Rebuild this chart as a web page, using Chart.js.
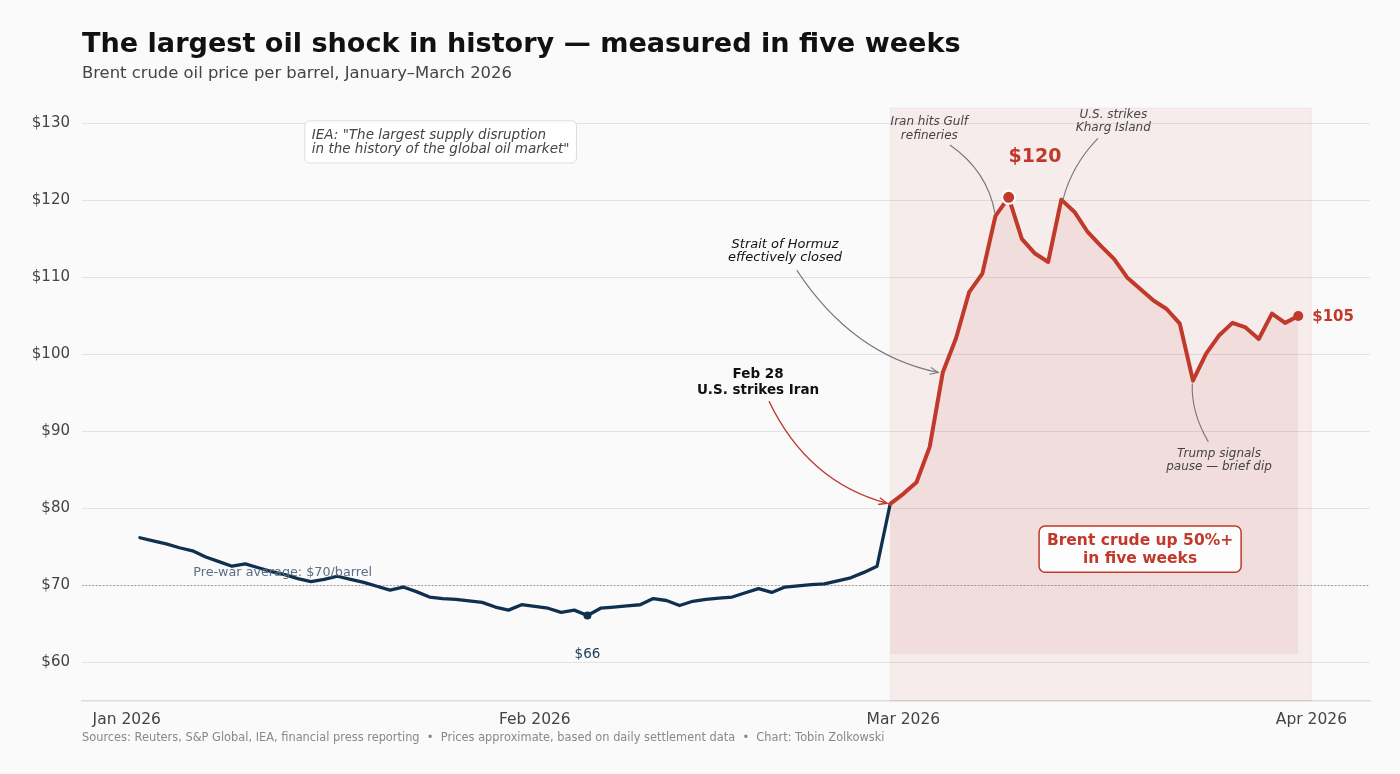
<!DOCTYPE html>
<html>

<head>
  <title>The largest oil shock in history</title>
  <script src="https://cdn.jsdelivr.net/npm/chart.js"></script>
  <style>
    body {
      margin: 0;
      background-color: #fafafa;
    }

    #chartContainer {
      width: 1400px;
      height: 774px;
    }
  </style>
</head>

<body>
  <div id="chartContainer">
    <canvas id="oilChart" width="1400" height="774"></canvas>
  </div>

  <script>
    // x values are days counted from Jan 1 2026 (0 = Jan 1)
    const preWarDays = [1, 2, 3, 4, 5, 6, 7, 8, 9, 10, 11, 12, 13, 14, 15, 16, 17, 18, 19, 20,
      21, 22, 23, 24, 25, 26, 27, 28, 29, 30, 31, 32, 33, 34, 35, 36, 37, 38, 39, 40,
      41, 42, 43, 44, 45, 46, 47, 48, 49, 50, 51, 52, 53, 54, 55, 56, 57, 58];
    const preWarPrices = [76.2, 75.8, 75.4, 74.9, 74.5, 73.7, 73.1, 72.5, 72.8, 72.3,
      71.8, 71.4, 70.9, 70.5, 70.8, 71.2, 70.8, 70.4, 69.9, 69.4,
      69.8, 69.2, 68.5, 68.3, 68.2, 68.0, 67.8, 67.2, 66.8, 67.5,
      67.3, 67.05, 66.5, 66.8, 66.1, 67.05, 67.2, 67.35, 67.5, 68.3,
      68.05, 67.4, 67.95, 68.2, 68.35, 68.5, 69.05, 69.6, 69.1, 69.8,
      69.95, 70.1, 70.2, 70.6, 71.0, 71.7, 72.5, 80.6];

    const warDays = [58, 59, 60, 61, 62, 63, 64, 65, 66, 67, 68, 69, 70, 71, 72, 73,
      74, 75, 76, 77, 78, 79, 80, 81, 82, 83, 84, 85, 86, 87, 88, 89];
    const warPrices = [80.6, 81.9, 83.4, 88.0, 97.7, 102.1, 108.1, 110.5, 118.0, 120.4,
      115.0, 113.1, 112.0, 120.1, 118.5, 115.9, 114.1, 112.4, 110.0, 108.5,
      107.0, 105.9, 104.0, 96.6, 100.1, 102.5, 104.1, 103.5, 102.0, 105.3,
      104.1, 105.0];

    const xTickDays = [0, 31, 59, 90];
    const xTickLabels = ['Jan 2026', 'Feb 2026', 'Mar 2026', 'Apr 2026'];
    const yTickValues = [60, 70, 80, 90, 100, 110, 120, 130];

    const prewarAverage = 70;
    const warSpan = [58, 90];
    const fillFloor = 61.1;

    const NAVY = '#10304f';
    const RED = '#c0392b';
    const FONT = '"DejaVu Sans", sans-serif';

    const minIdx = preWarPrices.indexOf(Math.min(...preWarPrices));
    const peakIdx = warPrices.indexOf(Math.max(...warPrices));
    const lastIdx = warPrices.length - 1;

    function toPoints(days, prices) {
      return days.map((d, i) => ({ x: d, y: prices[i] }));
    }

    // draw text so that the cap-height centre of the line sits on y
    function capText(ctx, str, x, y, size) {
      ctx.textBaseline = 'alphabetic';
      ctx.fillText(str, x, y + size * 0.365);
    }

    function curve(ctx, p0, c, p1, color, width, head) {
      ctx.save();
      ctx.strokeStyle = color;
      ctx.lineWidth = width;
      ctx.beginPath();
      ctx.moveTo(p0[0], p0[1]);
      ctx.quadraticCurveTo(c[0], c[1], p1[0], p1[1]);
      ctx.stroke();
      if (head) {
        const ang = Math.atan2(p1[1] - c[1], p1[0] - c[0]);
        const len = 9;
        ctx.beginPath();
        ctx.moveTo(p1[0] - len * Math.cos(ang - 0.4), p1[1] - len * Math.sin(ang - 0.4));
        ctx.lineTo(p1[0], p1[1]);
        ctx.lineTo(p1[0] - len * Math.cos(ang + 0.4), p1[1] - len * Math.sin(ang + 0.4));
        ctx.stroke();
      }
      ctx.restore();
    }

    function roundBox(ctx, x0, y0, x1, y1, r, fill, stroke, lw) {
      ctx.save();
      ctx.beginPath();
      ctx.roundRect(x0, y0, x1 - x0, y1 - y0, r);
      ctx.fillStyle = fill;
      ctx.fill();
      ctx.strokeStyle = stroke;
      ctx.lineWidth = lw;
      ctx.stroke();
      ctx.restore();
    }

    const decorPlugin = {
      id: 'decor',
      beforeDraw(chart) {
        const ctx = chart.ctx;
        ctx.save();
        ctx.fillStyle = '#fafafa';
        ctx.fillRect(0, 0, chart.width, chart.height);

        ctx.fillStyle = '#111';
        ctx.font = 'bold 27.1px ' + FONT;
        ctx.textAlign = 'left';
        ctx.fillText('The largest oil shock in history \u2014 measured in five weeks', 82, 52);

        ctx.fillStyle = '#444';
        ctx.font = '16.4px ' + FONT;
        ctx.fillText('Brent crude oil price per barrel, January\u2013March 2026', 82, 78);

        ctx.fillStyle = '#888';
        ctx.font = '11.4px ' + FONT;
        ctx.fillText('Sources: Reuters, S&P Global, IEA, financial press reporting  \u2022  Prices approximate, based on daily settlement data  \u2022  Chart: Tobin Zolkowski', 82, 741);
        ctx.restore();
      },
      beforeDatasetsDraw(chart) {
        const { ctx, chartArea, scales } = chart;
        const xs = scales.x, ys = scales.y;
        ctx.save();
        // war period shading
        const sx0 = xs.getPixelForValue(warSpan[0]);
        const sx1 = xs.getPixelForValue(warSpan[1]);
        ctx.fillStyle = 'rgba(192,57,43,0.07)';
        ctx.fillRect(sx0, chartArea.top, sx1 - sx0, chartArea.bottom - chartArea.top);
        ctx.strokeStyle = 'rgba(192,57,43,0.06)';
        ctx.lineWidth = 1;
        ctx.strokeRect(sx0, chartArea.top, sx1 - sx0, chartArea.bottom - chartArea.top);

        // pre-war average
        const ay = ys.getPixelForValue(prewarAverage);
        ctx.strokeStyle = '#9a9a9a';
        ctx.lineWidth = 1.2;
        ctx.setLineDash([1.5, 2]);
        ctx.beginPath();
        ctx.moveTo(chartArea.left, ay);
        ctx.lineTo(chartArea.right, ay);
        ctx.stroke();
        ctx.restore();
      },
      afterDatasetsDraw(chart) {
        const { ctx, scales } = chart;
        const xs = scales.x, ys = scales.y;
        const P = (d, v) => [xs.getPixelForValue(d), ys.getPixelForValue(v)];
        ctx.save();

        // pre-war average label
        ctx.fillStyle = '#5b6f86';
        ctx.font = '12.75px ' + FONT;
        ctx.textAlign = 'left';
        let p = P(5.05, 71.9);
        capText(ctx, 'Pre-war average: $70/barrel', p[0], p[1], 12.75);

        // low label
        ctx.fillStyle = '#1b3a5c';
        ctx.font = '13.5px ' + FONT;
        ctx.textAlign = 'center';
        p = P(preWarDays[minIdx], 61.26);
        capText(ctx, '$' + Math.round(preWarPrices[minIdx]), p[0], p[1], 13.5);

        // IEA quote box
        ctx.font = 'italic 13.5px ' + FONT;
        const ieaLines = ['IEA: "The largest supply disruption', 'in the history of the global oil market"'];
        const i1 = P(14.06, 128.65), i2 = P(14.06, 126.8);
        const iw = Math.max(...ieaLines.map(s => ctx.measureText(s).width));
        roundBox(ctx, i1[0] - 7, i1[1] - 13, i1[0] + iw + 7, i2[1] + 15, 5, 'rgba(255,255,255,0.9)', '#dddddd', 1);
        ctx.fillStyle = '#444';
        ctx.textAlign = 'left';
        capText(ctx, ieaLines[0], i1[0], i1[1], 13.5);
        capText(ctx, ieaLines[1], i2[0], i2[1], 13.5);

        // Feb 28 strike
        curve(ctx, P(48.79, 93.93), P(51.75, 83.41), P(57.76, 80.68), RED, 1.4, true);
        ctx.fillStyle = '#111';
        ctx.font = 'bold 13.5px ' + FONT;
        ctx.textAlign = 'center';
        p = P(47.96, 97.64);
        capText(ctx, 'Feb 28', p[0], p[1], 13.5);
        p = P(47.96, 95.56);
        capText(ctx, 'U.S. strikes Iran', p[0], p[1], 13.5);

        // Hormuz
        curve(ctx, P(50.9, 110.95), P(55.14, 99.91), P(61.65, 97.66), '#777', 1.1, true);
        ctx.fillStyle = '#111';
        ctx.font = 'italic 13px ' + FONT;
        p = P(50.01, 114.5);
        capText(ctx, 'Strait of Hormuz', p[0], p[1], 13);
        p = P(50.01, 112.7);
        capText(ctx, 'effectively closed', p[0], p[1], 13);

        // refineries
        curve(ctx, P(62.54, 127.19), P(65.39, 123.81), P(65.96, 118.32), '#777', 1.1, false);
        ctx.fillStyle = '#444';
        ctx.font = 'italic 12px ' + FONT;
        p = P(60.97, 130.31);
        capText(ctx, 'Iran hits Gulf', p[0], p[1], 12);
        p = P(60.97, 128.54);
        capText(ctx, 'refineries', p[0], p[1], 12);

        // Kharg
        curve(ctx, P(73.78, 128.06), P(71.81, 124.59), P(71.13, 120.14), '#777', 1.1, false);
        p = P(74.95, 131.31);
        capText(ctx, 'U.S. strikes', p[0], p[1], 12);
        p = P(74.95, 129.57);
        capText(ctx, 'Kharg Island', p[0], p[1], 12);

        // Trump dip
        curve(ctx, P(80.95, 96.23), P(80.85, 92.5), P(82.17, 88.65), '#777', 1.1, false);
        p = P(82.98, 87.27);
        capText(ctx, 'Trump signals', p[0], p[1], 12);
        p = P(82.98, 85.52);
        capText(ctx, 'pause \u2014 brief dip', p[0], p[1], 12);

        // peak and last values
        ctx.fillStyle = RED;
        ctx.font = 'bold 19px ' + FONT;
        p = P(69.0, 125.89);
        capText(ctx, '$' + Math.round(warPrices[peakIdx]), p[0], p[1], 19);
        ctx.font = 'bold 15px ' + FONT;
        ctx.textAlign = 'left';
        p = P(90.06, 105.1);
        capText(ctx, '$' + Math.round(warPrices[lastIdx]), p[0], p[1], 15);

        // summary box
        const b0 = P(69.31, 77.73), b1 = P(84.66, 71.72);
        roundBox(ctx, b0[0], b0[1], b1[0], b1[1], 6, 'rgba(255,255,255,0.92)', RED, 1.5);
        ctx.fillStyle = RED;
        ctx.font = 'bold 15.5px ' + FONT;
        ctx.textAlign = 'center';
        p = P(76.98, 76.0);
        capText(ctx, 'Brent crude up 50%+', p[0], p[1], 15.5);
        p = P(76.98, 73.62);
        capText(ctx, 'in five weeks', p[0], p[1], 15.5);

        ctx.restore();
      }
    };

    const ctx = document.getElementById('oilChart').getContext('2d');
    window.oilChart = new Chart(ctx, {
      type: 'line',
      data: {
        datasets: [{
          label: 'Since Feb 28',
          data: toPoints(warDays, warPrices),
          borderColor: RED,
          borderWidth: 4,
          backgroundColor: 'rgba(192,57,43,0.075)',
          fill: { value: fillFloor },
          tension: 0,
          borderJoinStyle: 'round',
          borderCapStyle: 'round',
          pointRadius: (c) => c.dataIndex === peakIdx ? 6.5 : (c.dataIndex === lastIdx ? 5 : 0),
          pointBackgroundColor: RED,
          pointBorderColor: (c) => c.dataIndex === peakIdx ? '#ffffff' : RED,
          pointBorderWidth: (c) => c.dataIndex === peakIdx ? 2 : 0
        },
        {
          label: 'Before the war',
          data: toPoints(preWarDays, preWarPrices),
          borderColor: NAVY,
          borderWidth: 3.3,
          fill: false,
          tension: 0,
          borderJoinStyle: 'round',
          borderCapStyle: 'round',
          pointRadius: (c) => c.dataIndex === minIdx ? 4 : 0,
          pointBackgroundColor: NAVY,
          pointBorderWidth: 0
        }]
      },
      options: {
        responsive: false,
        animation: false,
        devicePixelRatio: 1,
        layout: {
          padding: { top: 108, right: 30, bottom: 0, left: 0 }
        },
        plugins: {
          legend: { display: false },
          tooltip: { enabled: false }
        },
        scales: {
          x: {
            type: 'linear',
            min: -3.4,
            max: 94.45,
            afterBuildTicks: (axis) => {
              axis.ticks = xTickDays.map(v => ({ value: v }));
            },
            afterFit: (axis) => {
              axis.height = 73;
            },
            ticks: {
              autoSkip: false,
              maxRotation: 0,
              padding: 10,
              color: '#444',
              font: { family: FONT, size: 15.5 },
              callback: (v) => xTickLabels[xTickDays.indexOf(v)]
            },
            grid: { display: false, drawTicks: false },
            border: { color: '#dcdcdc', width: 1.5 }
          },
          y: {
            min: 55,
            max: 132,
            afterBuildTicks: (axis) => {
              axis.ticks = yTickValues.map(v => ({ value: v }));
            },
            afterFit: (axis) => {
              axis.width = 82;
            },
            ticks: {
              padding: 12,
              color: '#444',
              font: { family: FONT, size: 15 },
              callback: (v) => '$' + v
            },
            grid: { color: '#e2e2e2', lineWidth: 1, drawTicks: false },
            border: { display: false }
          }
        }
      },
      plugins: [decorPlugin]
    });
  </script>
</body>

</html>
